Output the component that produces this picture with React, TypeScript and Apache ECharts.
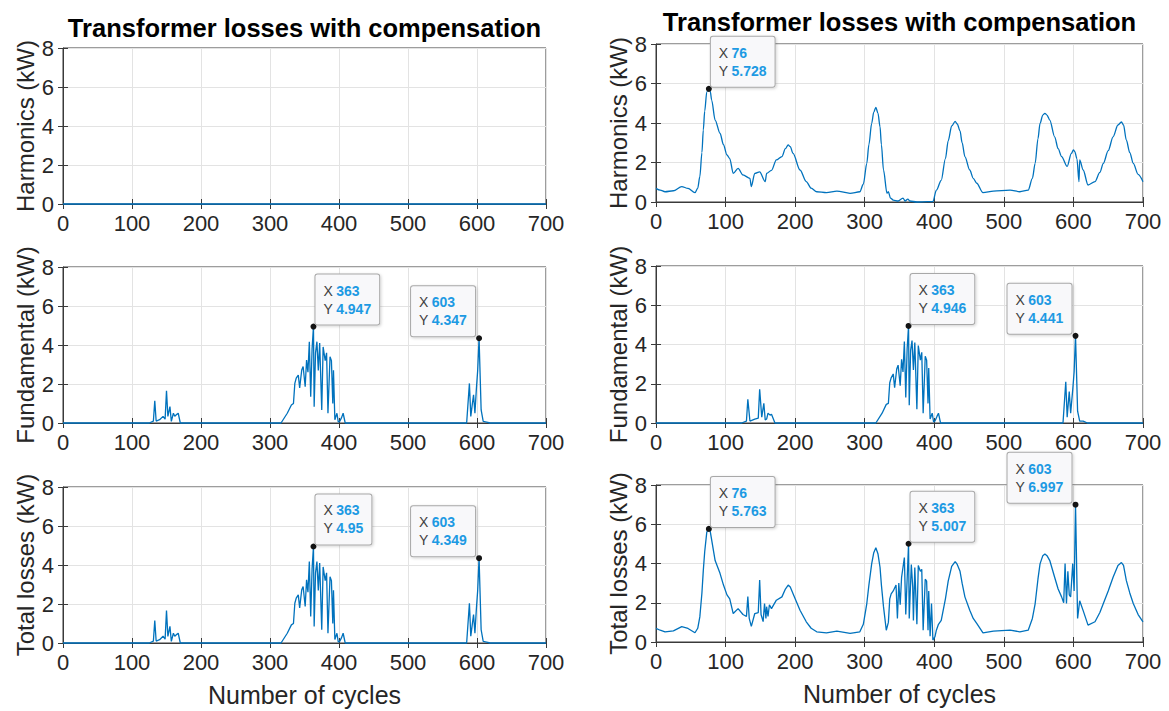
import React, { useEffect, useRef } from "react";
import * as echarts from "echarts";

// ---------- data ----------
const xTickMax = 700;
const xTickStep = 100;
const yTickMax = 8;
const yTickStep = 2;

const titleText = "Transformer losses with compensation";
const xLabelText = "Number of cycles";
const yLabels = ["Harmonics (kW)", "Fundamental (kW)", "Total losses (kW)"];

// Left column (with compensation, harmonics removed)
const harmLeft: number[][] = [[0, 0], [175, 0], [350, 0], [525, 0], [700, 0]];

const fundLeft: number[][] = [
  [0, 0], [125, 0], [131, 0.1], [133, 1.14], [135, 0.1], [140, 0.17], [145, 0.34], [148, 0.2], [150, 1.65],
  [152, 0.34], [155, 0.84], [157, 0.08], [160, 0.5], [162, 0.35], [165, 0.45], [167, 0.5], [170, 0],
  [316, 0], [325, 0.5], [331, 0.92], [334, 1.0], [336, 2.03], [338, 2.3], [341, 2.46], [343, 1.8],
  [346, 2.72], [348, 2.9], [351, 1.86], [353, 3.23], [355, 2.6], [357, 4.17], [359, 1.35], [361, 3.8],
  [363, 4.947], [364, 0.84], [366, 3.6], [368, 4.17], [370, 2.7], [372, 4.1], [375, 0.67], [377, 3.9],
  [380, 3.2], [382, 3.6], [384, 0.5], [387, 3.4], [389, 3.2], [391, 1.0], [392, 2.7], [394, 0.17],
  [397, 0.5], [399, 0.05], [401, 0.08], [404, 0.3], [406, 0.5], [409, 0],
  [585, 0], [589, 2.03], [591, 0.34], [593, 0.9], [595, 1.45], [597, 0.5], [599, 1.7], [601, 2.7],
  [603, 4.347], [606, 0.67], [609, 0.08], [614, 0.05], [619, 0], [700, 0],
];

const totalLeft: number[][] = [
  [0, 0], [125, 0], [131, 0.1], [133, 1.15], [135, 0.1], [140, 0.17], [145, 0.35], [148, 0.2], [150, 1.66],
  [152, 0.34], [155, 0.85], [157, 0.08], [160, 0.5], [162, 0.35], [165, 0.45], [167, 0.5], [170, 0],
  [316, 0], [325, 0.5], [331, 0.93], [334, 1.0], [336, 2.04], [338, 2.3], [341, 2.47], [343, 1.8],
  [346, 2.73], [348, 2.9], [351, 1.87], [353, 3.24], [355, 2.6], [357, 4.18], [359, 1.36], [361, 3.8],
  [363, 4.95], [364, 0.85], [366, 3.6], [368, 4.18], [370, 2.7], [372, 4.1], [375, 0.68], [377, 3.9],
  [380, 3.2], [382, 3.6], [384, 0.5], [387, 3.4], [389, 3.2], [391, 1.0], [392, 2.7], [394, 0.18],
  [397, 0.5], [399, 0.05], [401, 0.08], [404, 0.3], [406, 0.5], [409, 0],
  [585, 0], [589, 2.04], [591, 0.35], [593, 0.9], [595, 1.46], [597, 0.5], [599, 1.7], [601, 2.7],
  [603, 4.349], [606, 0.68], [609, 0.08], [614, 0.05], [619, 0], [700, 0],
];

// Right column
const harmRight: number[][] = [
  [0, 0.69], [6, 0.6], [13, 0.52], [25, 0.57], [37, 0.78], [46, 0.69], [56, 0.47], [60, 0.7], [63, 1.28],
  [66, 2.5], [68, 3.65], [70, 4.6], [73, 5.58], [76, 5.728], [78, 5.6], [80, 5.16], [85, 4.15], [92, 3.48],
  [97, 2.9], [102, 2.38], [106, 2.2], [111, 1.45], [118, 1.7], [125, 1.37], [135, 1.2], [137, 0.78],
  [142, 1.45], [149, 1.53], [157, 1.03], [159, 1.45], [166, 1.6], [173, 2.13], [181, 2.3], [186, 2.7],
  [190, 2.89], [193, 2.8], [197, 2.46], [207, 1.62], [216, 1.03], [223, 0.7], [231, 0.52], [245, 0.47],
  [260, 0.55], [279, 0.44], [293, 0.52], [298, 0.9], [303, 1.96], [306, 2.9], [310, 3.98], [313, 4.55],
  [316, 4.79], [319, 4.5], [322, 3.81], [324, 2.9], [327, 1.62], [332, 0.44], [334, 0.52], [337, 0.2],
  [341, 0.1], [348, 0.05], [355, 0.2], [358, 0.05], [362, 0.15], [365, 0.05], [375, 0], [390, 0.02],
  [398, 0.02], [403, 0.6], [410, 1.1], [416, 2.2], [420, 3.1], [425, 3.85], [430, 4.08], [433, 3.95],
  [437, 3.6], [440, 3.0], [444, 2.3], [451, 1.62], [456, 1.2], [461, 0.95], [470, 0.47], [485, 0.55],
  [509, 0.6], [523, 0.52], [535, 0.6], [541, 1.2], [545, 1.96], [549, 3.2], [552, 3.98], [556, 4.4],
  [559, 4.49], [562, 4.4], [566, 4.15], [573, 3.3], [578, 2.7], [583, 2.3], [591, 1.8], [597, 2.46],
  [600, 2.64], [602, 2.55], [605, 2.2], [608, 1.03], [609, 2.13], [614, 1.62], [621, 0.86], [631, 1.03],
  [638, 1.5], [643, 1.96], [650, 2.6], [657, 3.3], [664, 3.9], [669, 4.05], [672, 3.9], [676, 3.14],
  [681, 2.5], [686, 1.96], [693, 1.4], [700, 1.03],
];

const fundRight: number[][] = [
  [0, 0], [123, 0], [130, 0.1], [132, 1.21], [135, 0.1], [142, 0.2], [147, 0.25], [149, 1.72], [152, 0.3],
  [155, 1.0], [157, 0.15], [159, 0.2], [161, 0.5], [164, 0.4], [166, 0.45], [171, 0],
  [316, 0], [325, 0.5], [331, 0.95], [334, 1.0], [336, 2.05], [338, 2.3], [341, 2.5], [343, 1.8],
  [346, 2.75], [348, 2.95], [351, 1.9], [353, 3.25], [355, 2.6], [357, 4.15], [359, 1.3], [361, 3.8],
  [363, 4.946], [364, 0.9], [366, 3.7], [368, 4.2], [370, 2.7], [372, 4.1], [375, 0.7], [377, 3.95],
  [380, 3.2], [382, 3.6], [384, 0.5], [387, 3.4], [389, 3.2], [391, 1.0], [392, 2.8], [394, 0.2],
  [397, 0.5], [399, 0.05], [401, 0.1], [404, 0.35], [406, 0.5], [409, 0],
  [585, 0], [589, 2.1], [591, 0.3], [594, 1.6], [596, 0.5], [599, 1.7], [601, 2.6], [603, 4.441],
  [606, 0.6], [609, 0.1], [614, 0.1], [620, 0], [700, 0],
];

const totalRight: number[][] = [
  [0, 0.69], [6, 0.6], [13, 0.52], [25, 0.57], [37, 0.78], [46, 0.69], [56, 0.47], [60, 0.7], [63, 1.28],
  [66, 2.5], [68, 3.65], [70, 4.6], [73, 5.6], [76, 5.763], [78, 5.62], [80, 5.2], [85, 4.15], [92, 3.5],
  [97, 2.9], [102, 2.4], [106, 2.2], [111, 1.45], [118, 1.7], [125, 1.4], [130, 1.3], [132, 2.31],
  [134, 1.2], [137, 0.8], [142, 1.45], [147, 1.5], [149, 3.16], [151, 1.4], [154, 1.04], [156, 1.96],
  [158, 1.2], [159, 1.8], [161, 1.3], [163, 1.9], [166, 1.7], [173, 2.13], [181, 2.3], [186, 2.7],
  [190, 2.9], [193, 2.8], [197, 2.46], [207, 1.62], [216, 1.03], [223, 0.7], [231, 0.52], [245, 0.47],
  [260, 0.55], [279, 0.44], [293, 0.52], [298, 0.9], [303, 1.96], [306, 2.9], [310, 3.98], [313, 4.55],
  [316, 4.8], [319, 4.5], [322, 3.81], [324, 2.9], [327, 1.8], [331, 0.6], [334, 1.0], [336, 2.2],
  [338, 2.45], [341, 2.6], [345, 2.9], [347, 1.2], [349, 3.0], [351, 1.9], [353, 3.3], [357, 4.3],
  [359, 1.4], [363, 5.007], [364, 1.2], [367, 3.95], [369, 2.8], [370, 1.1], [372, 3.8], [375, 0.9],
  [377, 3.9], [380, 3.6], [382, 3.7], [384, 0.6], [387, 3.2], [389, 3.1], [391, 0.6], [392, 2.6],
  [394, 0.3], [396, 1.96], [398, 0.1], [401, 0.27], [403, 0.6], [406, 0.9], [410, 1.1], [416, 2.2],
  [420, 3.1], [425, 3.85], [430, 4.1], [433, 3.95], [437, 3.6], [440, 3.0], [444, 2.3], [451, 1.62],
  [456, 1.2], [461, 0.95], [470, 0.47], [485, 0.55], [509, 0.6], [523, 0.52], [535, 0.6], [541, 1.2],
  [545, 1.96], [549, 3.2], [552, 3.98], [556, 4.4], [559, 4.49], [562, 4.4], [566, 4.15], [573, 3.3],
  [578, 2.7], [583, 2.3], [586, 2.0], [588, 4.0], [590, 1.96], [592, 3.6], [594, 2.4], [596, 2.3],
  [599, 4.0], [601, 2.6], [603, 6.997], [606, 1.2], [609, 2.1], [614, 1.6], [621, 0.86], [631, 1.03],
  [638, 1.5], [643, 1.96], [650, 2.6], [657, 3.3], [664, 3.9], [669, 4.05], [672, 3.9], [676, 3.14],
  [681, 2.5], [686, 1.96], [693, 1.4], [700, 1.03],
];

// data tips: [x, y]
const tipsHarmLeft: number[][] = [];
const tipsFundLeft: number[][] = [[363, 4.947], [603, 4.347]];
const tipsTotalLeft: number[][] = [[363, 4.95], [603, 4.349]];
const tipsHarmRight: number[][] = [[76, 5.728]];
const tipsFundRight: number[][] = [[363, 4.946], [603, 4.441]];
const tipsTotalRight: number[][] = [[76, 5.763], [363, 5.007], [603, 6.997]];

// ---------- layout / style ----------
const FONT = "'Liberation Sans', Arial, Helvetica, sans-serif";
const LINE_COLOR = "#0072BD";
const AXIS_COLOR = "#3a3a3a";
const TEXT_COLOR = "#262626";
const GRID_COLOR = "#e3e3e3";
const TIP_TEXT_W = 48;
const TIP_PAD_X = 8;

const panels = [
  { box: { left: 63, top: 48, width: 483, height: 156 }, data: harmLeft, tips: tipsHarmLeft, yl: 0, gap: 21, bottom: false, smooth: false },
  { box: { left: 63, top: 267, width: 483, height: 156 }, data: fundLeft, tips: tipsFundLeft, yl: 1, gap: 21, bottom: false, smooth: false },
  { box: { left: 63, top: 487, width: 483, height: 156 }, data: totalLeft, tips: tipsTotalLeft, yl: 2, gap: 21, bottom: true, smooth: false },
  { box: { left: 656, top: 44, width: 487, height: 158 }, data: harmRight, tips: tipsHarmRight, yl: 0, gap: 24, bottom: false, smooth: true },
  { box: { left: 656, top: 266, width: 487, height: 157 }, data: fundRight, tips: tipsFundRight, yl: 1, gap: 24, bottom: false, smooth: false },
  { box: { left: 656, top: 485, width: 487, height: 157 }, data: totalRight, tips: tipsTotalRight, yl: 2, gap: 24, bottom: true, smooth: false },
];

function buildOption() {
  const grid = panels.map((p) => ({
    ...p.box,
    show: true,
    borderColor: AXIS_COLOR,
    borderWidth: 1,
    backgroundColor: "#ffffff",
    containLabel: false,
  }));

  const xAxis: any[] = [];
  const yAxis: any[] = [];
  panels.forEach((p, i) => {
    xAxis.push({
      type: "value",
      gridIndex: i,
      min: 0,
      max: xTickMax,
      interval: xTickStep,
      position: "bottom",
      axisLine: { show: true, lineStyle: { color: AXIS_COLOR, width: 1 } },
      axisTick: { show: true, inside: true, length: 5, lineStyle: { color: AXIS_COLOR } },
      axisLabel: { show: true, color: TEXT_COLOR, fontSize: 22, fontFamily: FONT, margin: 8 },
      splitLine: { show: true, lineStyle: { color: GRID_COLOR, width: 1 } },
      name: p.bottom ? xLabelText : "",
      nameLocation: "middle",
      nameGap: 39,
      nameTextStyle: { fontSize: 25, color: TEXT_COLOR, fontFamily: FONT },
    });
    yAxis.push({
      type: "value",
      gridIndex: i,
      min: 0,
      max: yTickMax,
      interval: yTickStep,
      position: "left",
      axisLine: { show: true, lineStyle: { color: AXIS_COLOR, width: 1 } },
      axisTick: { show: true, inside: true, length: 5, lineStyle: { color: AXIS_COLOR } },
      axisLabel: { show: true, color: TEXT_COLOR, fontSize: 22, fontFamily: FONT, margin: 9 },
      splitLine: { show: true, lineStyle: { color: GRID_COLOR, width: 1 } },
      name: yLabels[p.yl],
      nameLocation: "middle",
      nameRotate: 90,
      nameGap: p.gap,
      nameTextStyle: { fontSize: 24, color: TEXT_COLOR, fontFamily: FONT },
    });
  });
  // mirrored ticks (top / right)
  panels.forEach((_p, i) => {
    xAxis.push({
      type: "value",
      gridIndex: i,
      min: 0,
      max: xTickMax,
      interval: xTickStep,
      position: "top",
      axisLine: { show: false },
      axisTick: { show: true, inside: true, length: 5, lineStyle: { color: AXIS_COLOR } },
      axisLabel: { show: false },
      splitLine: { show: false },
    });
    yAxis.push({
      type: "value",
      gridIndex: i,
      min: 0,
      max: yTickMax,
      interval: yTickStep,
      position: "right",
      axisLine: { show: false },
      axisTick: { show: true, inside: true, length: 5, lineStyle: { color: AXIS_COLOR } },
      axisLabel: { show: false },
      splitLine: { show: false },
    });
  });

  const series = panels.map((p, i) => ({
    type: "line",
    xAxisIndex: i,
    yAxisIndex: i,
    data: p.data,
    showSymbol: false,
    smooth: p.smooth ? 0.3 : false,
    smoothMonotone: p.smooth ? "x" : undefined,
    clip: false,
    lineStyle: { color: LINE_COLOR, width: 1.3 },
    itemStyle: { color: LINE_COLOR },
    z: 3,
    markPoint: {
      symbol: "circle",
      symbolSize: 6,
      itemStyle: { color: "#141414" },
      z: 10,
      data: p.tips.map(([x, y]) => {
        const leftSide = x > 500;
        const label: any = {
          show: true,
          position: leftSide ? [3 - 2 - TIP_TEXT_W - 2 * TIP_PAD_X - 2, 1] : [5, 1],
          align: "left",
          verticalAlign: "bottom",
          formatter: `{k|X} {v|${x}}\n{k|Y} {v|${y}}`,
          backgroundColor: "#f8f8fa",
          borderColor: "#a8a8a8",
          borderWidth: 1,
          borderRadius: 2,
          padding: [7, TIP_PAD_X, 7, TIP_PAD_X],
          shadowColor: "rgba(0,0,0,0.18)",
          shadowBlur: 3,
          shadowOffsetX: 1,
          shadowOffsetY: 1,
          lineHeight: 18,
          rich: {
            k: { color: "#404040", fontSize: 14, fontFamily: FONT, lineHeight: 18 },
            v: { color: "#1d9ae3", fontSize: 14, fontWeight: "bold", fontFamily: FONT, lineHeight: 18 },
          },
        };
        if (leftSide) label.width = TIP_TEXT_W;
        return { coord: [x, y], value: y, label };
      }),
    },
  }));

  const titleStyle = {
    text: titleText,
    align: "center",
    verticalAlign: "middle",
    fontSize: 25.5,
    fontWeight: "bold",
    fontFamily: FONT,
    fill: "#000",
  };
  const graphic = [
    { type: "text", x: 304.5, y: 28, style: { ...titleStyle } },
    { type: "text", x: 899.5, y: 22, style: { ...titleStyle } },
  ];

  return {
    animation: false,
    backgroundColor: "#ffffff",
    grid,
    xAxis,
    yAxis,
    series,
    graphic,
  };
}

export default function App() {
  const ref = useRef<HTMLDivElement>(null);
  useEffect(() => {
    if (!ref.current) return;
    const chart = echarts.init(ref.current, null, { renderer: "svg" });
    chart.setOption(buildOption() as any);
    return () => chart.dispose();
  }, []);
  return (
    <div
      ref={ref}
      style={{ position: "fixed", left: 0, top: 0, width: 1169, height: 711, background: "#fff" }}
    />
  );
}
